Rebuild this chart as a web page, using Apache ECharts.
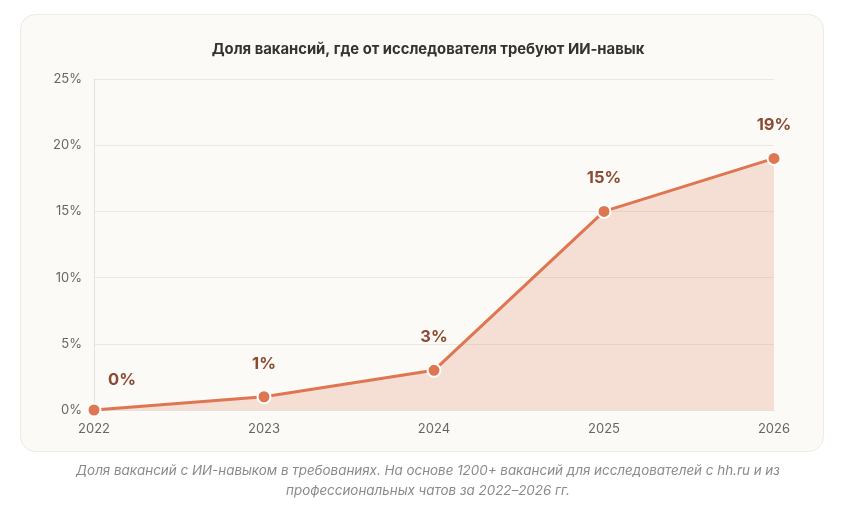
<!DOCTYPE html>
<html><head><meta charset="utf-8">
<script src="https://cdn.jsdelivr.net/npm/echarts@6/dist/echarts.min.js"></script>
<style>html,body{margin:0;padding:0;background:#fff}#c{width:856px;height:507px}</style>
</head><body><div id="c"></div>
<script>
const years = ['2022','2023','2024','2025','2026'];
const shares = [0, 1, 3, 15, 19];
const yTicks = [0, 5, 10, 15, 20, 25];
const titleText = 'Доля вакансий, где от исследователя требуют ИИ-навык';
const captionText = 'Доля вакансий с ИИ-навыком в требованиях. На основе 1200+ вакансий для исследователей с hh.ru и из\nпрофессиональных чатов за 2022–2026 гг.';

const chart = echarts.init(document.getElementById('c'));
const data = shares.map((v, i) => i === 0
  ? {value: v, label: {offset: [28, 3]}}
  : {value: v});
chart.setOption({
  backgroundColor: '#ffffff',
  animation: false,
  graphic: [
    {type: 'rect', z: -10, shape: {x: 20.5, y: 14.5, width: 803, height: 437, r: 15},
     style: {fill: '#fcfaf6', stroke: '#efebe3', lineWidth: 1}},
    {type: 'text', left: 'center', top: 461, z: 10,
     style: {text: captionText, fill: '#8a8a8a', font: 'italic 13.4px Inter', textAlign: 'center', lineHeight: 20}}
  ],
  title: {
    text: titleText, left: 'center', top: 37,
    textStyle: {fontFamily: 'Inter', fontSize: 14.8, fontWeight: 'bold', color: '#333'}
  },
  grid: {left: 94, right: 82, top: 79, bottom: 97, containLabel: false},
  xAxis: {
    type: 'category', data: years, boundaryGap: false,
    axisLine: {show: true, lineStyle: {color: '#e6e2da'}},
    axisTick: {show: false},
    axisLabel: {color: '#666', fontSize: 13, fontFamily: 'Inter', margin: 13}
  },
  yAxis: {
    type: 'value', min: yTicks[0], max: yTicks[yTicks.length - 1], interval: 5,
    axisLine: {show: true, lineStyle: {color: '#e6e2da'}},
    axisTick: {show: false},
    axisLabel: {color: '#666', fontSize: 13, fontFamily: 'Inter', margin: 12, formatter: '{value}%'},
    splitLine: {lineStyle: {color: '#ece8e1'}}
  },
  series: [{
    type: 'line', data: data,
    symbol: 'circle', symbolSize: 13,
    lineStyle: {color: '#de7652', width: 3},
    itemStyle: {color: '#de7652', borderColor: '#ffffff', borderWidth: 2},
    areaStyle: {color: 'rgba(222,118,82,0.3)'},
    label: {show: true, position: 'top', distance: 17, formatter: '{c}%',
      color: '#8c4a32', fontSize: 16.5, fontWeight: 'bold', fontFamily: 'Inter'}
  }]
});
</script></body></html>
